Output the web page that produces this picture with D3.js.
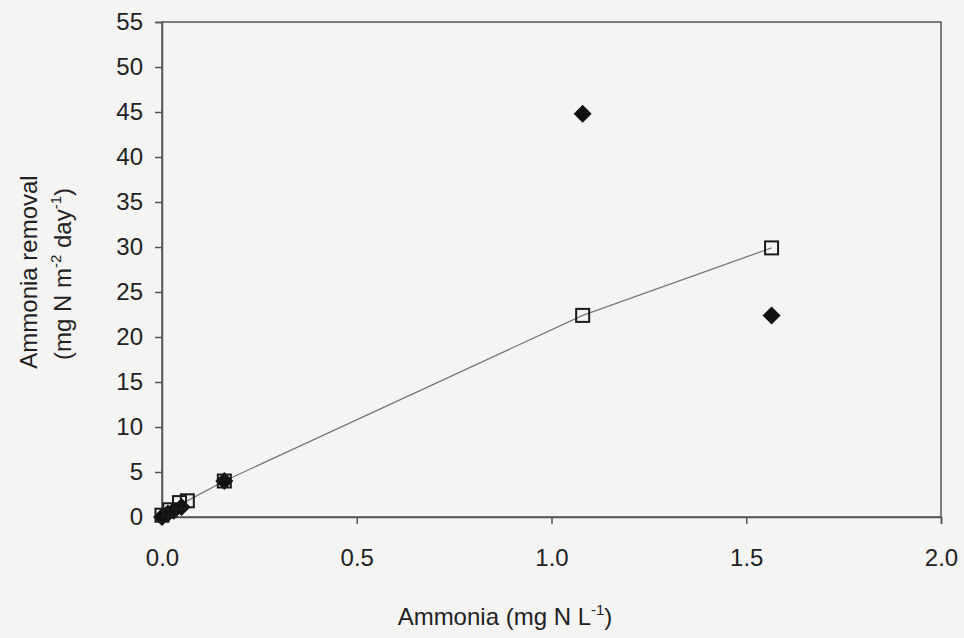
<!DOCTYPE html>
<html>
<head>
  <meta charset="utf-8">
  <script src="https://d3js.org/d3.v7.min.js"></script>
  <style>
    html, body { margin:0; padding:0; background:#f4f4f2; }
    svg { display:block; font-family:"Liberation Sans", Arial, sans-serif; }
  </style>
</head>
<body>
<div class="chart"></div>
<script>
  // open squares, joined by a line
  var squareX = [0.0, 0.02, 0.045, 0.065, 0.16, 1.08, 1.565];
  var squareY = [0.2, 0.8, 1.6, 1.8, 4.0, 22.4, 29.9];
  // filled diamonds
  var diamondX = [0.0, 0.015, 0.03, 0.05, 0.16, 1.08, 1.565];
  var diamondY = [0.0, 0.4, 0.7, 1.1, 4.0, 44.8, 22.4];

  var xTicks = [0, 0.5, 1.0, 1.5, 2.0];
  var yTicks = [0, 5, 10, 15, 20, 25, 30, 35, 40, 45, 50, 55];

  var W = 964, H = 638;
  var mLeft = 162, mRight = 941, mTop = 22, mBottom = 517;

  var svg = d3.select("div.chart").append("svg")
      .attr("width", W)
      .attr("height", H);

  var x = d3.scaleLinear().domain([0, 2]).range([mLeft, mRight]);
  var y = d3.scaleLinear().domain([0, 55]).range([mBottom, mTop]);

  var axisColor = "#555";

  // frame
  svg.append("rect")
    .attr("x", mLeft).attr("y", mTop)
    .attr("width", mRight - mLeft).attr("height", mBottom - mTop)
    .attr("fill", "none").attr("stroke", axisColor).attr("stroke-width", 1.5);

  var xAxis = svg.append("g")
    .attr("transform", "translate(0," + mBottom + ")")
    .call(d3.axisBottom(x).tickValues(xTicks).tickFormat(d3.format(".1f")).tickSizeOuter(0).tickSize(7).tickPadding(25));

  var yAxis = svg.append("g")
    .attr("transform", "translate(" + mLeft + ",0)")
    .call(d3.axisLeft(y).tickValues(yTicks).tickSizeOuter(0).tickSize(7).tickPadding(12));

  [xAxis, yAxis].forEach(function(g) {
    g.select(".domain").attr("stroke", axisColor).attr("stroke-width", 1.5);
    g.selectAll(".tick line").attr("stroke", axisColor).attr("stroke-width", 1.5);
    g.selectAll(".tick text").attr("fill", "#222").style("font-size", "24px");
  });

  // line through squares
  var pts = squareX.map(function(d, i) { return [d, squareY[i]]; });
  svg.append("path")
    .datum(pts)
    .attr("fill", "none")
    .attr("stroke", "#777")
    .attr("stroke-width", 1.3)
    .attr("d", d3.line().x(function(d) { return x(d[0]); }).y(function(d) { return y(d[1]); }));

  // diamonds
  var dpts = diamondX.map(function(d, i) { return [d, diamondY[i]]; });
  svg.selectAll("path.diamond").data(dpts).enter().append("path")
    .attr("class", "diamond")
    .attr("transform", function(d) { return "translate(" + x(d[0]) + "," + y(d[1]) + ")"; })
    .attr("d", "M0,-9L9,0L0,9L-9,0Z")
    .attr("fill", "#111");

  // squares
  svg.selectAll("rect.sq").data(pts).enter().append("rect")
    .attr("class", "sq")
    .attr("x", function(d) { return x(d[0]) - 6.5; })
    .attr("y", function(d) { return y(d[1]) - 6.5; })
    .attr("width", 13).attr("height", 13)
    .attr("fill", "none")
    .attr("stroke", "#1a1a1a")
    .attr("stroke-width", 2);

  // x title
  var xt = svg.append("text")
    .attr("x", 505).attr("y", 625)
    .attr("text-anchor", "middle")
    .attr("fill", "#222")
    .style("font-size", "24px");
  xt.append("tspan").text("Ammonia (mg N L");
  xt.append("tspan").attr("dy", -10).style("font-size", "15px").text("-1");
  xt.append("tspan").attr("dy", 10).text(")");

  // y title, two lines
  svg.append("text")
    .attr("transform", "translate(37,272) rotate(-90)")
    .attr("text-anchor", "middle")
    .attr("fill", "#222")
    .style("font-size", "24px")
    .text("Ammonia removal");

  var yt2 = svg.append("text")
    .attr("transform", "translate(71,274) rotate(-90)")
    .attr("text-anchor", "middle")
    .attr("fill", "#222")
    .style("font-size", "24px");
  yt2.append("tspan").text("(mg N m");
  yt2.append("tspan").attr("dy", -10).style("font-size", "15px").text("-2");
  yt2.append("tspan").attr("dy", 10).text(" day");
  yt2.append("tspan").attr("dy", -10).style("font-size", "15px").text("-1");
  yt2.append("tspan").attr("dy", 10).text(")");
</script>
</body>
</html>
